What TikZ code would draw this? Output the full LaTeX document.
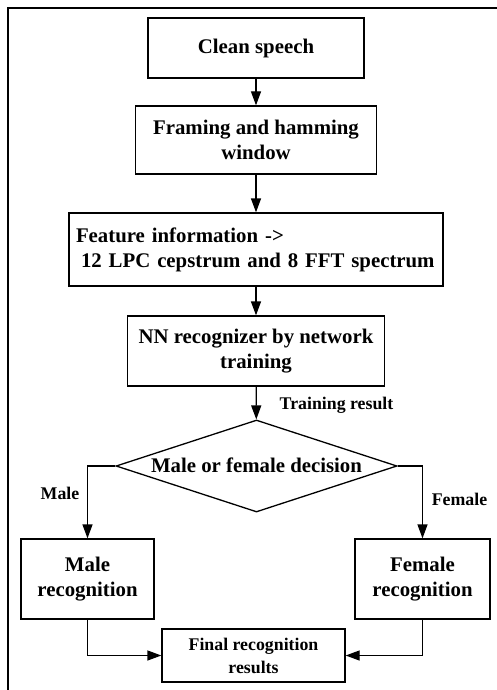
\documentclass[tikz,border=0pt]{standalone}
\usepackage{fontspec}
\setmainfont{Liberation Serif}
\usetikzlibrary{arrows.meta,shapes.geometric}
\newcommand\bigf{\fontsize{20.8}{25}\selectfont\bfseries}
\newcommand\smallf{\fontsize{17.8}{23}\selectfont\bfseries}
\begin{document}
\begin{tikzpicture}[x=1pt,y=-1pt,
  box/.style={draw,line width=1.3pt,rectangle,inner sep=0pt,align=center,font=\bigf},
  smallbox/.style={box,font=\smallf},
  lbl/.style={font=\smallf,inner sep=0pt},
  arr/.style={line width=1.3pt,-{Triangle[length=14pt,width=10pt]}}]
\useasboundingbox (0,0) rectangle (497,690);
\draw[line width=1.2pt] (8,700) -- (8,8) -- (510,8);

\node[box,minimum width=216pt,minimum height=60pt] (clean) at (256,48) {Clean speech};
\node[box,minimum width=241pt,minimum height=68pt] (frame) at (256,140) {Framing and hamming\\window};
\node[box,text width=360pt,inner xsep=7pt,minimum height=73pt,align=left] (feat) at (256,249.5)
  {Feature information ->\\\hspace{5pt}12 LPC cepstrum and 8 FFT spectrum};
\node[box,minimum width=257pt,minimum height=70pt] (nn) at (256,351) {NN recognizer by network\\training};
\node[diamond,draw,line width=1.3pt,minimum width=281pt,minimum height=92pt,inner sep=0pt] (dec) at (256.5,466) {};
\node[font=\bigf,inner sep=0pt] (dectext) at (256.5,465) {Male or female decision};
\node[box,minimum width=133pt,minimum height=80pt] (male) at (87.5,579) {Male\\recognition};
\node[box,minimum width=135pt,minimum height=80pt] (female) at (422.5,579) {Female\\recognition};
\node[smallbox,minimum width=183pt,minimum height=53pt] (final) at (253.5,655.5) {Final recognition\\results};

\node[lbl] (tr) at (336.5,405) {Training result};
\node[lbl] (lm) at (60,493) {Male};
\node[lbl] (lf) at (459.5,499) {Female};

\draw[arr] (clean) -- (frame);
\draw[arr] (frame) -- (feat);
\draw[arr] (feat) -- (nn);
\draw[arr] (nn) -- (dec);
\draw[arr] (dec.west) -| (male.north);
\draw[arr] (dec.east) -| (female.north);
\draw[arr] (male.south) |- (final.west);
\draw[arr] (female.south) |- (final.east);
\end{tikzpicture}
\end{document}
